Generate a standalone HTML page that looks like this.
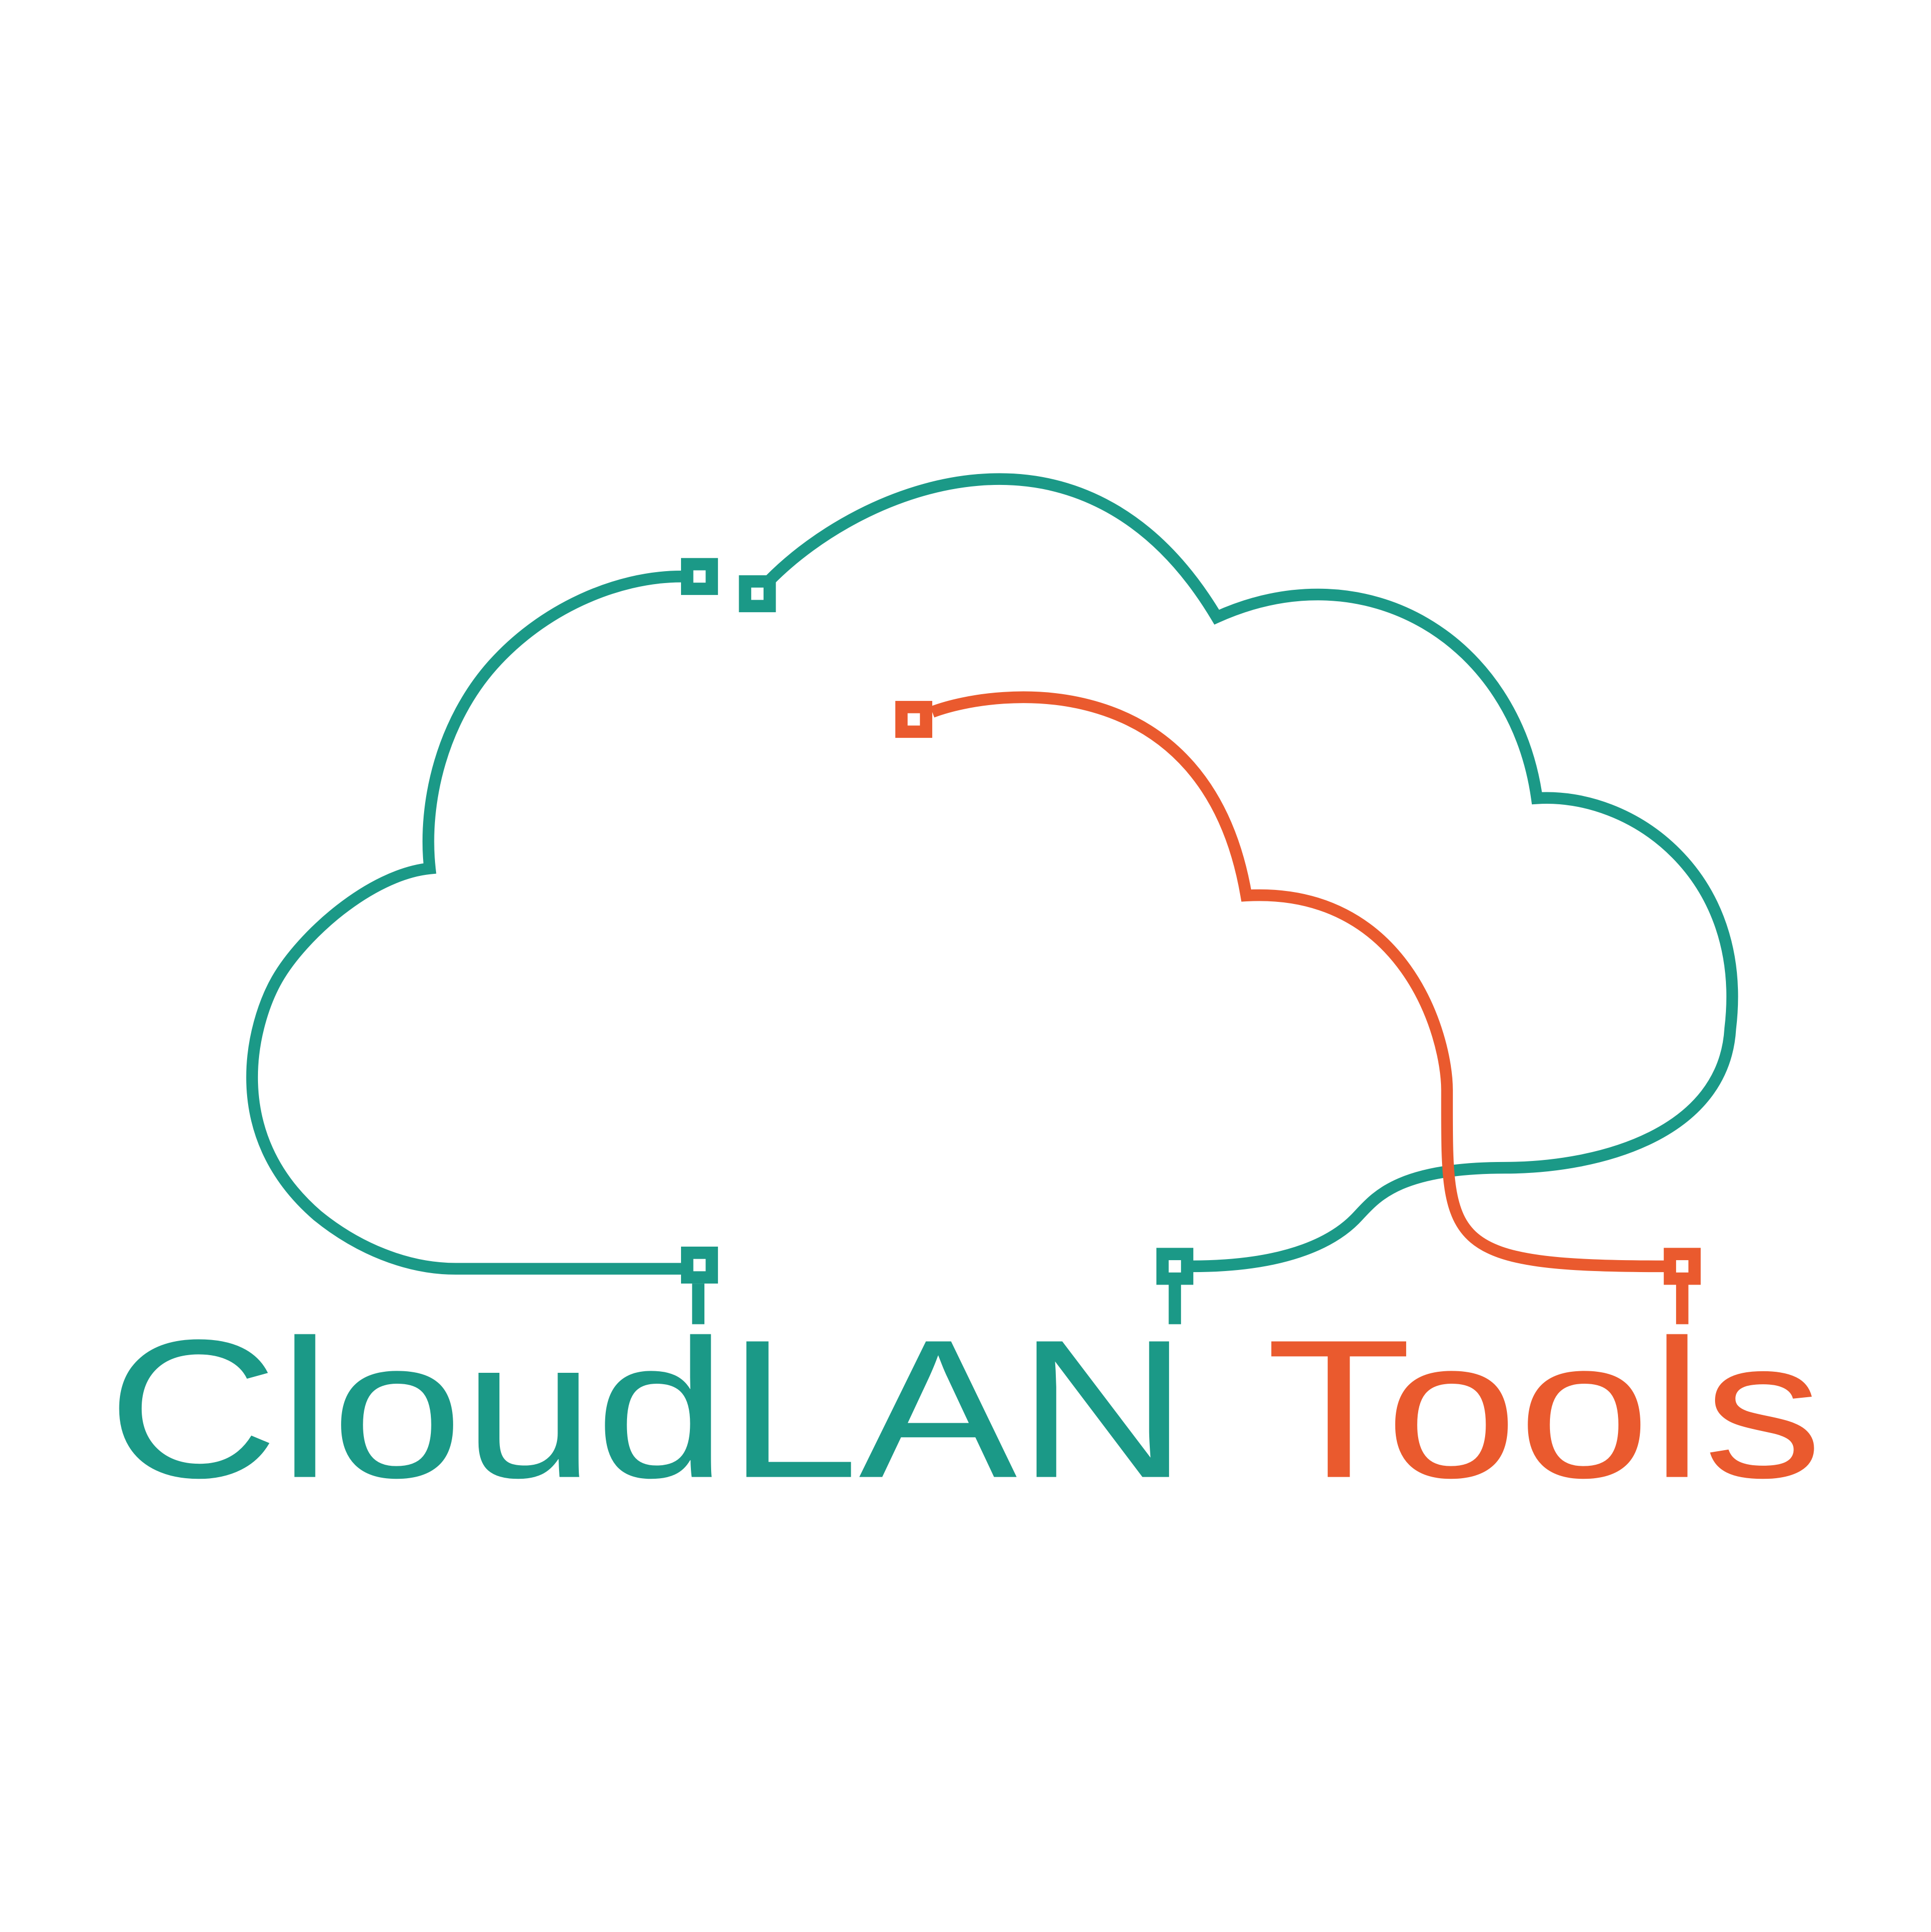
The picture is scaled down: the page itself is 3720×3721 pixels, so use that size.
<!DOCTYPE html>
<html><head><meta charset="utf-8"><style>
html,body{margin:0;padding:0;background:#fff;}
svg{display:block;}
</style></head><body>
<svg width="3720" height="3721" viewBox="0 0 1568 1568.4" xmlns="http://www.w3.org/2000/svg" preserveAspectRatio="none">
<rect width="1568" height="1569" fill="#fff"/>
<g fill="none" stroke="#1b9987" stroke-width="9.5">
<path d="M553,468 C500,468 440,495 400,540 C360,585 343,650 349,705 C300,710 245,760 225,795 C205,830 180,920 258,987 C290,1013 330,1030 370,1030 L553,1030"/>
<path d="M625,471 C700,395 880,320 988,501 C1110,446 1230,520 1248,648 C1325,643 1420,710 1405,835 C1400,920 1300,948 1222,948 C1130,948 1115,975 1100,990 C1085,1005 1050,1028 968,1028"/>
<rect x="558" y="458" width="20" height="20" stroke-width="10"/>
<rect x="605" y="472" width="20" height="20" stroke-width="10"/>
<rect x="558" y="1017" width="20" height="20" stroke-width="10"/>
<rect x="944" y="1018" width="20" height="20" stroke-width="10"/>
</g>
<rect x="562" y="1042" width="10" height="33" fill="#1b9987"/>
<rect x="949" y="1043" width="10" height="32" fill="#1b9987"/>
<g fill="none" stroke="#ea5a2e" stroke-width="9.5">
<path d="M757,578 C810,558 980,540 1012,727 C1140,720 1175,840 1175,885 C1175,1010 1170,1028 1352,1028"/>
<rect x="732" y="574" width="20" height="20" stroke-width="10"/>
<rect x="1356" y="1018" width="20" height="20" stroke-width="10"/>
</g>
<rect x="1361" y="1043" width="10" height="32" fill="#ea5a2e"/>
<text x="87" y="1199" font-family="Liberation Sans, sans-serif" font-size="160" fill="#1b9987" textLength="878" lengthAdjust="spacingAndGlyphs">CloudLAN</text>
<text x="1028" y="1199" font-family="Liberation Sans, sans-serif" font-size="160" fill="#ea5a2e" textLength="452" lengthAdjust="spacingAndGlyphs">Tools</text>
</svg>
</body></html>
